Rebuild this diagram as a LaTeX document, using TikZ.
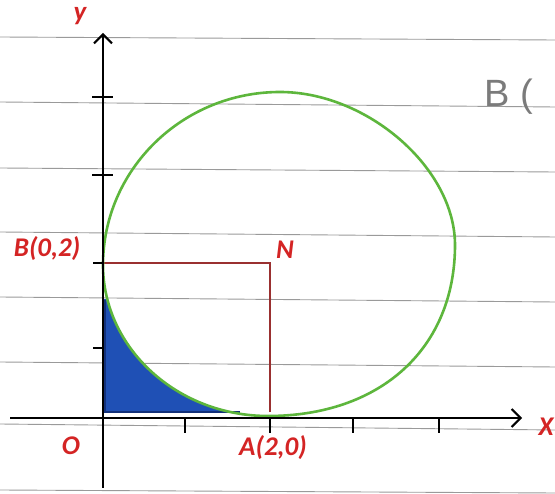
\documentclass[tikz,border=0pt]{standalone}
\usepackage{fontspec}
\setmainfont{Carlito}
\newfontfamily\handfont{Liberation Sans}
\usetikzlibrary{arrows.meta}
\definecolor{lbl}{HTML}{D42424}
\definecolor{nline}{HTML}{9A3030}
\definecolor{circ}{HTML}{5DB63C}
\definecolor{regionblue}{HTML}{1F50B5}
\definecolor{regionedge}{HTML}{12307A}
\definecolor{paper}{HTML}{9A9A9A}
\begin{document}
\begin{tikzpicture}[x=1pt,y=-1pt,
  rule/.style={draw=paper,line width=0.9pt},
  axisline/.style={draw=black,line width=2.2pt,-{Straight Barb[length=9pt,width=18pt,line width=2pt]}},
  tickmark/.style={draw=black,line width=2.6pt},
  smalltick/.style={draw=black,line width=1.8pt},
  lbltext/.style={text=lbl,font=\fontsize{27}{27}\selectfont\bfseries\itshape,inner sep=0pt},
  guide/.style={draw=nline,line width=1.1pt}]
\useasboundingbox[fill=white] (0,0) rectangle (555,494);
% ruled paper
\foreach \a/\b in {37/40,102/107,168/172,232/237,297/302,362/367,424/430,490/493}
  \draw[rule] (0,\a) -- (555,\b);
% shaded region (outside the circle, inside the corner)
\begin{scope}
  \clip (104,300) rectangle (300,413);
  \fill[regionblue,even odd rule] (100,295) rectangle (305,418)
    (103,265) .. controls (103,348) and (177,416) .. (268,416)
    .. controls (381,416) and (455,348) .. (455,245)
    .. controls (455,168) and (367,92) .. (280,92)
    .. controls (182,92) and (103,170) .. (103,265) -- cycle;
\end{scope}
\draw[regionedge,line width=1.6pt] (105,300) -- (105,412) -- (240,412);
% coordinates
\coordinate (O) at (103,418);
\coordinate (ytop) at (103,33);
\coordinate (ybot) at (103,488);
\coordinate (xleft) at (10,418);
\coordinate (xright) at (522,418);
\coordinate (Bpt) at (103,263);
\coordinate (Npt) at (270,263);
\coordinate (Apt) at (270,412);
% guide lines
\draw[guide] (Bpt) -- (Npt) -- (Apt);
% circle
\draw[circ,line width=2.6pt] (103,265) .. controls (103,348) and (177,416) .. (268,416)
    .. controls (381,416) and (455,348) .. (455,245)
    .. controls (455,168) and (367,92) .. (280,92)
    .. controls (182,92) and (103,170) .. (103,265) -- cycle;
% axes
\draw[axisline] (ybot) -- (ytop);
\draw[axisline] (xleft) -- (xright);
% ticks
\draw[tickmark] (92,97) -- (113,97);
\draw[tickmark] (92,175) -- (113,175);
\draw[tickmark] (93,263) -- (103,263);
\draw[tickmark] (93,348) -- (103,348);
\foreach \x in {185,270,353,439}
  \draw[smalltick] (\x,418) -- (\x,433);
% labels
\node[lbltext] (ylab) at (80,16) {y};
\node[lbltext] (xlab) at (546,427) {X};
\node[lbltext] (olab) at (71,446) {O};
\node[lbltext] (alab) at (273,448) {A(2,0)};
\node[lbltext] (blab) at (47,249) {B(0,2)};
\node[lbltext] (nlab) at (285,250) {N};
\node[text=paper!80!black,font=\handfont\fontsize{38}{38}\selectfont,anchor=west,inner sep=0pt] (hand) at (484,97) {B (};
\end{tikzpicture}
\end{document}
